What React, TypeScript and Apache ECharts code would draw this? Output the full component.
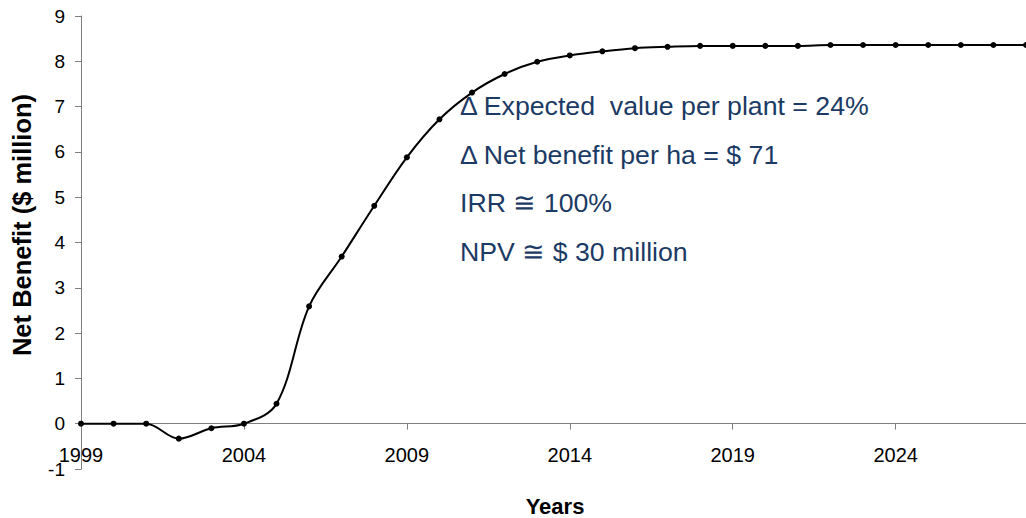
import React, { useEffect, useRef } from "react";
import * as echarts from "echarts";

const years: string[] = [
  "1999", "2000", "2001", "2002", "2003", "2004", "2005", "2006", "2007", "2008",
  "2009", "2010", "2011", "2012", "2013", "2014", "2015", "2016", "2017", "2018",
  "2019", "2020", "2021", "2022", "2023", "2024", "2025", "2026", "2027", "2028",
];

const netBenefit: number[] = [
  0.0, 0.0, 0.0, -0.33, -0.1, 0.0, 0.44, 2.59, 3.69, 4.81,
  5.88, 6.72, 7.31, 7.72, 7.99, 8.13, 8.22, 8.29, 8.32, 8.34,
  8.34, 8.34, 8.34, 8.36, 8.36, 8.36, 8.36, 8.36, 8.36, 8.36,
];

const annotations: string[] = [
  "\u0394 Expected  value per plant = 24%",
  "\u0394 Net benefit per ha = $ 71",
  "IRR \u2245 100%",
  "NPV \u2245 $ 30 million",
];

const yTitle = "Net Benefit ($ million)";
const xTitle = "Years";

const FONT = "'Liberation Sans', Arial, Helvetica, sans-serif";

export default function App() {
  const ref = useRef<HTMLDivElement>(null);

  useEffect(() => {
    if (!ref.current) return;
    const chart = echarts.init(ref.current, null, { renderer: "svg" });
    const option: any = {
      animation: false,
      backgroundColor: "#ffffff",
      grid: { left: 81, right: -3, top: 16, bottom: 49, containLabel: false },
      xAxis: {
        type: "category",
        data: years,
        boundaryGap: false,
        offset: -45.4,
        axisLine: { onZero: false, lineStyle: { color: "#7f7f7f", width: 1 } },
        axisTick: { show: true, interval: 4, length: 6, lineStyle: { color: "#7f7f7f" } },
        axisLabel: {
          interval: 4,
          margin: 21,
          color: "#000",
          fontSize: 20,
          fontFamily: FONT,
        },
        splitLine: { show: false },
      },
      yAxis: {
        type: "value",
        min: -1,
        max: 9,
        interval: 1,
        axisLine: { show: true, lineStyle: { color: "#7f7f7f", width: 1 } },
        axisTick: { show: true, length: 6, lineStyle: { color: "#7f7f7f" } },
        axisLabel: { margin: 16, color: "#000", fontSize: 19, fontFamily: FONT },
        splitLine: { show: false },
      },
      series: [
        {
          type: "line",
          data: netBenefit,
          smooth: 0.35,
          symbol: "circle",
          symbolSize: 6,
          itemStyle: { color: "#000" },
          lineStyle: { color: "#000", width: 2 },
        },
      ],
      graphic: [
        {
          type: "text",
          x: 22,
          y: 225,
          rotation: Math.PI / 2,
          style: {
            text: yTitle,
            fill: "#000",
            font: `bold 25.5px ${FONT}`,
            align: "center",
            verticalAlign: "middle",
          },
        },
        {
          type: "text",
          x: 555,
          y: 506,
          style: {
            text: xTitle,
            fill: "#000",
            font: `bold 22px ${FONT}`,
            align: "center",
            verticalAlign: "middle",
          },
        },
        ...annotations.map((t, i) => ({
          type: "text",
          x: 460,
          y: 106 + i * 48.6,
          style: {
            text: t,
            fill: "#1b3a64",
            font: `26.7px ${FONT}`,
            align: "left",
            verticalAlign: "middle",
          },
        })),
      ],
    };
    chart.setOption(option);
    return () => chart.dispose();
  }, []);

  return (
    <div
      ref={ref}
      style={{ position: "fixed", left: 0, top: 0, width: 1026, height: 518 }}
    />
  );
}
